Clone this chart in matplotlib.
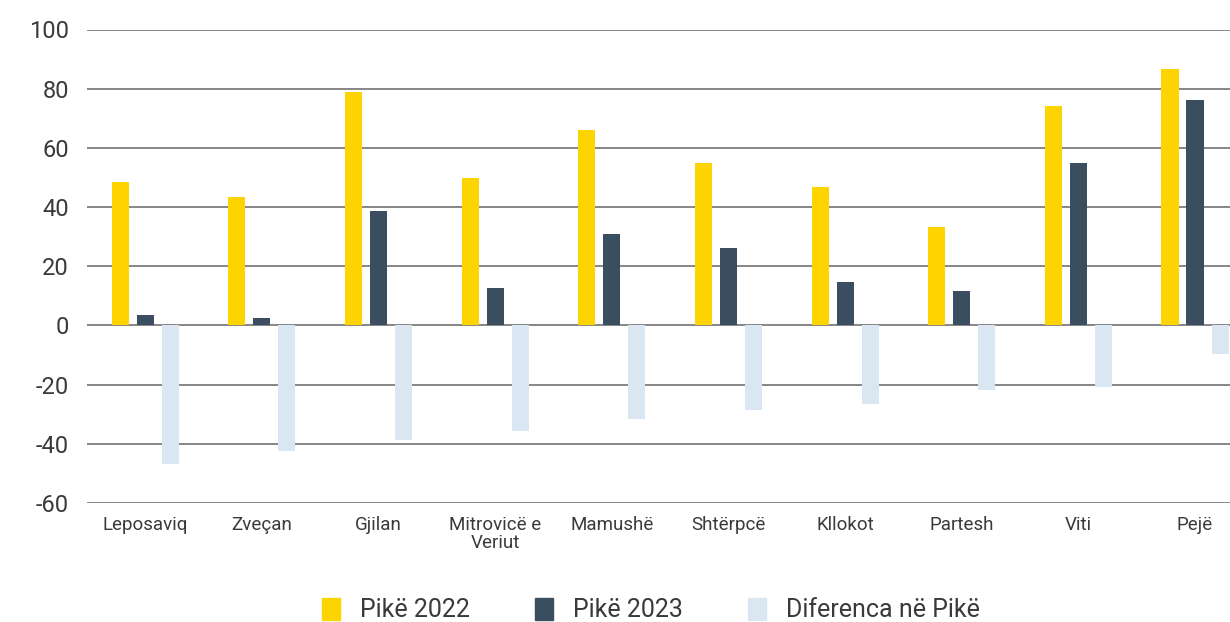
import numpy as np
import matplotlib.pyplot as plt
from matplotlib.patches import Patch

plt.rcParams['font.family'] = ['Roboto', 'DejaVu Sans']

komunat = ['Leposaviq', 'Zveçan', 'Gjilan', 'Mitrovicë e\nVeriut', 'Mamushë',
           'Shtërpcë', 'Kllokot', 'Partesh', 'Viti', 'Pejë']
pike_2022 = [48.5, 43.5, 78.8, 49.8, 66.2, 54.8, 46.8, 33.2, 74.2, 86.8]
pike_2023 = [3.5, 2.5, 38.8, 12.5, 30.8, 26.2, 14.8, 11.5, 54.8, 76.2]
diferenca = [-46.8, -42.4, -38.8, -35.8, -31.6, -28.6, -26.4, -21.9, -20.8, -9.7]
y_ticks = [-60, -40, -20, 0, 20, 40, 60, 80, 100]

c_2022 = '#FDD300'
c_2023 = '#3B4E60'
c_diff = '#DAE6F1'
c_text = '#3a3a3a'

fig = plt.figure(figsize=(12.3, 6.22), dpi=100)
ax = fig.add_axes([87 / 1230, 1 - 503 / 622, 1 - 87 / 1230, (503 - 29.5) / 622])

x = np.arange(len(komunat))
w = 0.146
off = 0.2145
ax.bar(x - off, pike_2022, w, color=c_2022, zorder=3)
ax.bar(x, pike_2023, w, color=c_2023, zorder=3)
ax.bar(x + off, diferenca, w, color=c_diff, zorder=3)

ax.set_xlim(-0.5, 9.3)
ax.set_ylim(-60, 100)
ax.set_yticks(y_ticks)
ax.set_yticklabels([str(t) for t in y_ticks], fontsize=17, color=c_text)
ax.set_xticks(x)
ax.set_xticklabels(komunat, fontsize=13.5, color=c_text, linespacing=1.05)
ax.tick_params(axis='both', length=0)
ax.tick_params(axis='x', pad=9)
ax.tick_params(axis='y', pad=13)
ax.yaxis.grid(True, color='#666666', linewidth=1.1, zorder=0)
ax.set_axisbelow(True)
for s in ax.spines.values():
    s.set_visible(False)

handles = [Patch(color=c_2022, label='Pikë 2022'),
           Patch(color=c_2023, label='Pikë 2023'),
           Patch(color=c_diff, label='Diferenca në Pikë')]
leg = fig.legend(handles=handles, loc='center', bbox_to_anchor=(0.529, 0.019), ncol=3,
                 frameon=False, fontsize=18, handlelength=0.72, handleheight=0.96,
                 handletextpad=0.8, columnspacing=2.6)
for t in leg.get_texts():
    t.set_color(c_text)

fig.savefig('out.png', dpi=100)
